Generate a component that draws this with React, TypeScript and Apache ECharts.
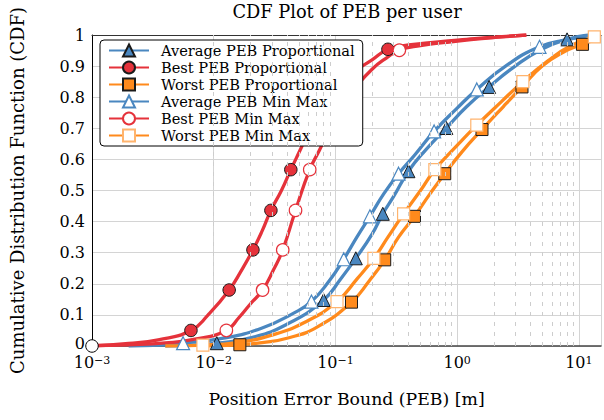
import React, { useEffect, useRef } from 'react';
import * as echarts from 'echarts';

const FONT = 'DejaVu Serif';

const X_MIN = 0.001;
const X_MAX = 15.2;
const Y_MIN = 0;
const Y_MAX = 1;
const Y_INTERVAL = 0.1;

const minorGridX = [
  0.002, 0.003, 0.004, 0.005, 0.006, 0.007, 0.008, 0.009,
  0.02, 0.03, 0.04, 0.05, 0.06, 0.07, 0.08, 0.09,
  0.2, 0.3, 0.4, 0.5, 0.6, 0.7, 0.8, 0.9,
  2, 3, 4, 5, 6, 7, 8, 9,
];

const seriesNames = [
  'Average PEB Proportional',
  'Best PEB Proportional',
  'Worst PEB Proportional',
  'Average PEB Min Max',
  'Best PEB Min Max',
  'Worst PEB Min Max',
];

// Average PEB Proportional
const avgPropCurveX = [0.004, 0.007, 0.02, 0.04, 0.11, 0.2, 0.3, 0.55, 1.2, 3, 5, 12];
const avgPropCurveY = [0, 0.003, 0.026, 0.07, 0.215, 0.36, 0.48, 0.63, 0.77, 0.9, 0.955, 1.0];
const avgPropMarkX = [0.0106, 0.08, 0.147, 0.245, 0.398, 0.815, 1.83, 8.0];
const avgPropMarkY = [0.009, 0.148, 0.282, 0.425, 0.562, 0.701, 0.833, 0.986];

// Best PEB Proportional
const bestPropCurveX = [0.002, 0.0035, 0.009, 0.017, 0.025, 0.036, 0.052, 0.075, 0.14, 0.2, 0.4, 0.7, 1.2, 2, 3.7];
const bestPropCurveY = [0.008, 0.02, 0.1, 0.245, 0.37, 0.5, 0.635, 0.76, 0.88, 0.92, 0.968, 0.978, 0.986, 0.993, 1.0];
const bestPropMarkX = [0.001, 0.0065, 0.0134, 0.021, 0.0295, 0.043, 0.062, 0.1, 0.27];
const bestPropMarkY = [0, 0.05, 0.18, 0.309, 0.436, 0.567, 0.7, 0.83, 0.954];

// Worst PEB Proportional
const worstPropCurveX = [0.008, 0.025, 0.04, 0.07, 0.19, 0.33, 0.6, 1.1, 2.4, 5, 7.5, 15];
const worstPropCurveY = [0, 0.011, 0.025, 0.06, 0.21, 0.35, 0.49, 0.625, 0.77, 0.9, 0.945, 0.99];
const worstPropMarkX = [0.0164, 0.1355, 0.254, 0.446, 0.791, 1.6, 3.41, 10.7];
const worstPropMarkY = [0.004, 0.141, 0.277, 0.417, 0.554, 0.696, 0.833, 0.97];

// Average PEB Min Max
const avgMmCurveX = [0.002, 0.004, 0.012, 0.025, 0.045, 0.09, 0.15, 0.25, 0.45, 1.0, 2.5, 8, 13];
const avgMmCurveY = [0, 0.004, 0.025, 0.058, 0.105, 0.212, 0.35, 0.49, 0.615, 0.765, 0.9, 0.985, 1.0];
const avgMmMarkX = [0.0056, 0.0635, 0.117, 0.192, 0.33, 0.647, 1.45, 4.75];
const avgMmMarkY = [0.009, 0.143, 0.279, 0.417, 0.554, 0.69, 0.825, 0.962];

// Best PEB Min Max
const bestMmCurveX = [0.001, 0.002, 0.004, 0.007, 0.016, 0.02, 0.031, 0.074, 0.115, 0.2, 0.26, 0.5, 0.8, 1.3, 2.2, 3.7];
const bestMmCurveY = [0.001, 0.004, 0.01, 0.022, 0.09, 0.135, 0.245, 0.63, 0.78, 0.89, 0.925, 0.966, 0.976, 0.985, 0.993, 1.0];
const bestMmMarkX = [0.0127, 0.0252, 0.0369, 0.047, 0.0615, 0.09, 0.145, 0.335];
const bestMmMarkY = [0.05, 0.18, 0.309, 0.436, 0.567, 0.7, 0.83, 0.951];

// Worst PEB Min Max
const worstMmCurveX = [0.004, 0.015, 0.03, 0.055, 0.15, 0.27, 0.5, 1.0, 2.3, 5.5, 8.5, 15];
const worstMmCurveY = [0, 0.01, 0.035, 0.075, 0.215, 0.35, 0.5, 0.645, 0.785, 0.915, 0.965, 1.0];
const worstMmMarkX = [0.00815, 0.103, 0.207, 0.363, 0.656, 1.45, 3.47, 13.4];
const worstMmMarkY = [0.003, 0.143, 0.282, 0.425, 0.567, 0.71, 0.85, 0.994];

const BLUE = '#4a87c0';
const RED = '#e5323b';
const ORANGE = '#ff8a1c';
const ORANGE_LIGHT = '#ffb46e';

function mergePoints(cx: number[], cy: number[], mx: number[], my: number[], firstMarkerStyle?: any) {
  const pts: any[] = [];
  cx.forEach((x, i) => pts.push({ value: [x, cy[i]], symbol: 'none' }));
  mx.forEach((x, i) => {
    const item: any = { value: [x, my[i]] };
    if (i === 0 && firstMarkerStyle) item.itemStyle = firstMarkerStyle;
    pts.push(item);
  });
  pts.sort((a, b) => a.value[0] - b.value[0] || a.value[1] - b.value[1]);
  return pts;
}

function makeSeries(
  name: string,
  color: string,
  symbol: string,
  size: number,
  filled: boolean,
  data: any[],
  hollowBorder?: string,
) {
  return {
    name,
    type: 'line',
    smooth: 0.5,
    showSymbol: true,
    showAllSymbol: true,
    symbol,
    symbolSize: size,
    lineStyle: { color, width: 3.3 },
    itemStyle: filled
      ? { color, borderColor: '#1a1a1a', borderWidth: 1 }
      : { color: '#ffffff', borderColor: hollowBorder || color, borderWidth: 1.2 },
    emphasis: { disabled: true },
    data,
    z: 2,
  };
}

export default function App() {
  const ref = useRef<HTMLDivElement>(null);

  useEffect(() => {
    if (!ref.current) return;
    const chart = echarts.init(ref.current, undefined, { renderer: 'svg' });

    const xLabelFormatter = (v: number) => {
      const e = Math.log10(v);
      const r = Math.round(e);
      if (Math.abs(e - r) > 1e-6) return '';
      return '{b|10}{s|' + (r < 0 ? '\u2212' + -r : String(r)) + '}';
    };

    const yLabelFormatter = (v: number) => (v === 0 ? '{z|0}' : String(Math.round(v * 10) / 10));

    const option: any = {
      animation: false,
      backgroundColor: '#ffffff',
      graphic: [
        {
          type: 'text',
          x: 347,
          y: 11,
          silent: true,
          style: {
            text: 'CDF Plot of PEB per user',
            fontFamily: FONT,
            fontSize: 17.8,
            fill: '#000',
            align: 'center',
            verticalAlign: 'middle',
          },
        },
      ],
      grid: { left: 89, right: -1, top: 35, bottom: 74, containLabel: false },
      legend: {
        data: seriesNames,
        orient: 'vertical',
        left: 100,
        top: 40,
        padding: [3, 8, 3, 8],
        itemWidth: 40,
        itemHeight: 15,
        itemGap: 2,
        backgroundColor: '#ffffff',
        borderColor: '#000',
        borderWidth: 1,
        borderRadius: 4,
        lineStyle: { width: 2 },
        selectedMode: false,
        textStyle: { fontFamily: FONT, fontSize: 14.6, color: '#000', padding: [0, 0, 0, 7] },
      },
      xAxis: [
        {
          type: 'log',
          logBase: 10,
          min: X_MIN,
          max: X_MAX,
          name: 'Position Error Bound (PEB) [m]',
          nameLocation: 'middle',
          nameGap: 44,
          nameTextStyle: { fontFamily: FONT, fontSize: 17.3, color: '#000' },
          axisLine: { show: true, onZero: false, lineStyle: { color: '#444', width: 1.5 } },
          axisTick: { show: false },
          axisLabel: {
            margin: 9,
            formatter: xLabelFormatter,
            rich: {
              b: { fontFamily: FONT, fontSize: 16, lineHeight: 14, color: '#000' },
              s: { fontFamily: FONT, fontSize: 11, lineHeight: 5, verticalAlign: 'top', color: '#000' },
            },
          },
          splitLine: { show: true, lineStyle: { color: '#d4d4d4', width: 1 } },
          minorTick: { show: false },
          minorSplitLine: { show: false },
        },
        {
          type: 'value',
          position: 'top',
          min: 0,
          max: 1,
          axisLine: { show: true, onZero: false, lineStyle: { color: '#333', width: 1.2 } },
          axisTick: { show: false },
          axisLabel: { show: false },
          splitLine: { show: false },
        },
      ],
      yAxis: {
        type: 'value',
        min: Y_MIN,
        max: Y_MAX,
        interval: Y_INTERVAL,
        name: 'Cumulative Distribution Function (CDF)',
        nameLocation: 'middle',
        nameGap: 66,
        nameTextStyle: { fontFamily: FONT, fontSize: 18, color: '#000' },
        axisLine: { show: true, onZero: false, lineStyle: { color: '#000', width: 1 } },
        axisTick: { show: false },
        axisLabel: {
          margin: 7,
          fontFamily: FONT,
          fontSize: 16,
          lineHeight: 14,
          color: '#000',
          formatter: yLabelFormatter,
          rich: {
            z: { fontFamily: FONT, fontSize: 16, lineHeight: 14, color: '#000', padding: [0, 0, 6, 0] },
          },
        },
        splitLine: { show: true, lineStyle: { color: '#d4d4d4', width: 1 } },
      },
      series: [
        {
          name: 'minorGrid',
          type: 'line',
          data: [],
          silent: true,
          z: 1,
          markLine: {
            silent: true,
            symbol: ['none', 'none'],
            label: { show: false },
            lineStyle: { color: '#cdcdcd', type: [4, 6], width: 1 },
            emphasis: { disabled: true },
            data: minorGridX.map((v) => ({ xAxis: v })),
          },
        },
        makeSeries(seriesNames[0], BLUE, 'triangle', 13, true,
          mergePoints(avgPropCurveX, avgPropCurveY, avgPropMarkX, avgPropMarkY)),
        makeSeries(seriesNames[1], RED, 'circle', 12.5, true,
          mergePoints(bestPropCurveX, bestPropCurveY, bestPropMarkX, bestPropMarkY,
            { color: '#ffffff', borderColor: '#000000', borderWidth: 1 })),
        makeSeries(seriesNames[2], ORANGE, 'rect', 12, true,
          mergePoints(worstPropCurveX, worstPropCurveY, worstPropMarkX, worstPropMarkY)),
        makeSeries(seriesNames[3], BLUE, 'triangle', 13, false,
          mergePoints(avgMmCurveX, avgMmCurveY, avgMmMarkX, avgMmMarkY)),
        makeSeries(seriesNames[4], RED, 'circle', 12.5, false,
          mergePoints(bestMmCurveX, bestMmCurveY, bestMmMarkX, bestMmMarkY)),
        makeSeries(seriesNames[5], ORANGE, 'rect', 12, false,
          mergePoints(worstMmCurveX, worstMmCurveY, worstMmMarkX, worstMmMarkY), ORANGE_LIGHT),
      ],
    };

    chart.setOption(option);
    return () => chart.dispose();
  }, []);

  return (
    <div
      ref={ref}
      style={{ position: 'fixed', left: 0, top: 0, width: 604, height: 420, background: '#fff' }}
    />
  );
}
